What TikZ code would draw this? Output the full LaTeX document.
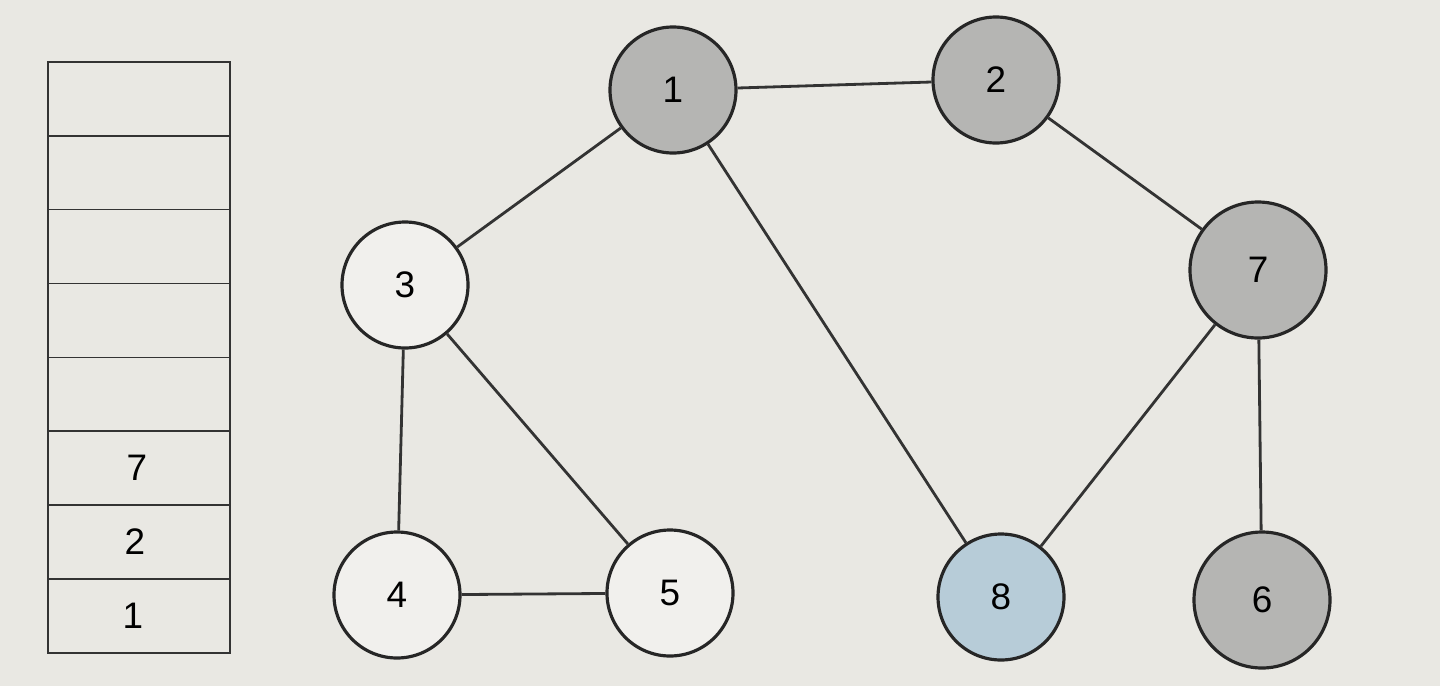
\documentclass[tikz,border=0pt]{standalone}
\usepackage{fontspec}
\setmainfont{Liberation Sans}
\usepackage{tikz}
\usetikzlibrary{positioning, calc}
\usepackage{xcolor}
\definecolor{papel}{HTML}{E9E8E3}
\definecolor{visitado}{HTML}{B5B5B3}
\definecolor{actual}{HTML}{B7CCD8}

\tikzset{
	nodo/.style={circle, draw=black!85, line width=0.9pt, minimum size=1.26cm,
		inner sep=0pt, font=\fontsize{10.5}{12}\selectfont},
	arista/.style={draw=black!80, line width=0.8pt},
	celda/.style={draw=black!80, line width=0.5pt}
}

\begin{document}
\begin{tikzpicture}
			% Fondo (papel)
			\fill[papel] (0,0) rectangle (14.4,6.86);
			\useasboundingbox (0,0) rectangle (14.4,6.86);

			% Pila
			\foreach \i in {0,...,7}
				\draw[celda] (0.48,0.33+0.739*\i) rectangle (2.30,0.33+0.739*\i+0.739);
			\node[font=\fontsize{10.5}{12}\selectfont] (p1) at (1.33,0.70) {1};
			\node[font=\fontsize{10.5}{12}\selectfont] (p2) at (1.35,1.44) {2};
			\node[font=\fontsize{10.5}{12}\selectfont] (p3) at (1.37,2.18) {7};

			% Nodos visitados (gris)
			\node[nodo, fill=visitado] (n1) at (6.73,5.96) {1};
			\node[nodo, fill=visitado] (n2) at (9.96,6.06) {2};
			\node[nodo, fill=visitado, minimum size=1.36cm] (n7) at (12.58,4.16) {7};
			\node[nodo, fill=visitado, minimum size=1.36cm] (n6) at (12.62,0.86) {6};

			% Nodos sin visitar
			\node[nodo, fill=white!35!papel] (n3) at (4.05,4.01) {3};
			\node[nodo, fill=white!35!papel] (n4) at (3.97,0.91) {4};
			\node[nodo, fill=white!35!papel] (n5) at (6.70,0.93) {5};

			% Nodo actual (azul)
			\node[nodo, fill=actual] (n8) at (10.01,0.89) {8};

			% Aristas
			\draw[arista] (n1) -- (n2);
			\draw[arista] (n1) -- (n3);
			\draw[arista] (n1) -- (n8);
			\draw[arista] (n2) -- (n7);
			\draw[arista] (n3) -- (n4);
			\draw[arista] (n3) -- (n5);
			\draw[arista] (n4) -- (n5);
			\draw[arista] (n7) -- (n8);
			\draw[arista] (n7) -- (n6);
		\end{tikzpicture}
\end{document}
